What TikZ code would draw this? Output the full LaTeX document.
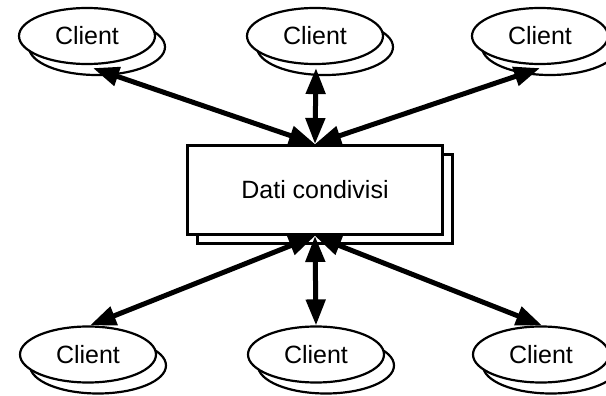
\documentclass[tikz,border=0pt]{standalone}
\usepackage{fontspec}
\setmainfont{Liberation Sans}
\usetikzlibrary{arrows.meta,shapes.geometric,shadows}

\tikzset{
  client/.style={
    ellipse, draw, line width=2.2pt, fill=white, inner sep=0pt,
    minimum width=136pt, minimum height=56pt,
    font=\fontsize{25}{30}\selectfont,
    copy shadow={shadow xshift=10pt, shadow yshift=-11pt, draw, fill=white, line width=2.2pt}
  },
  store/.style={
    rectangle, draw, line width=3pt, fill=white, inner sep=0pt,
    minimum width=255pt, minimum height=89pt,
    font=\fontsize{25}{30}\selectfont,
    copy shadow={shadow xshift=10pt, shadow yshift=-9pt, draw, fill=white, line width=3pt}
  },
  link/.style={
    line width=5pt,
    {Triangle[length=26pt,width=19pt]}-{Triangle[length=26pt,width=19pt]}
  }
}

\begin{document}
\begin{tikzpicture}[x=1pt,y=-1pt]
  \useasboundingbox (0,0) rectangle (606,396);
  \clip (0,0) rectangle (606,396);

  % shared data store
  \node[store] (dati) at (315,190) {Dati condivisi};

  % clients above
  \node[client] (tl) at (87,36)  {Client};
  \node[client] (tm) at (315,36) {Client};
  \node[client] (tr) at (540,36) {Client};

  % clients below
  \node[client] (bl) at (88,354.5)  {Client};
  \node[client] (bm) at (316,354.5) {Client};
  \node[client] (br) at (541,354.5) {Client};

  % two-way links
  \draw[link] (dati.north) -- ([xshift=6pt,yshift=-3pt]tl.south);
  \draw[link] (dati.north) -- ([xshift=1pt,yshift=-3pt]tm.south);
  \draw[link] (dati.north) -- ([yshift=-3pt]tr.south);
  \draw[link] (dati.south) -- ([xshift=2pt]bl.north);
  \draw[link] (dati.south) -- (bm.north);
  \draw[link] (dati.south) -- ([xshift=1pt]br.north);
\end{tikzpicture}
\end{document}
